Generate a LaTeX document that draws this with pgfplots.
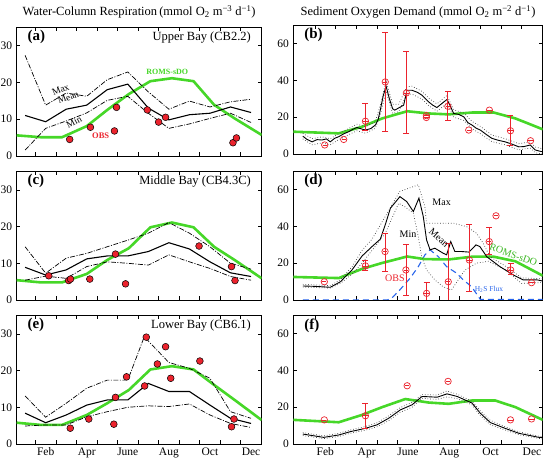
\documentclass[border=0pt]{standalone}
\usepackage{fontspec}
\setmainfont{Liberation Serif}
\usepackage{pgfplots}
\pgfplotsset{compat=1.18}
\definecolor{romsgreen}{RGB}{70,215,40}
\definecolor{obsred}{RGB}{235,35,45}
\definecolor{h2sblue}{RGB}{40,100,235}
\tikzset{
  plabel/.style={anchor=west, font=\bfseries\fontsize{15}{15}\selectfont},
  slabel/.style={anchor=east, font=\fontsize{12.5}{13}\selectfont},
}
\pgfplotsset{
  base/.style={scale only axis, anchor=south west, ymin=0,
    xmax=12.02, xtick={1,2,...,11}, xticklabels={},
    tick align=inside, major tick length=3.5pt, tick pos=both,
    axis line style={line width=0.8pt}, every tick/.style={black, line width=0.6pt},
    /pgf/number format/assume math mode=true,
    ticklabel style={font=\fontsize{11.5}{12}\selectfont},
    yticklabel style={xshift=-1pt}},
  leftpanel/.style={base, width=245pt, height=129pt, xmin=0.09, ymax=35, ytick={0,10,20,30}},
  rightpanel/.style={base, width=249.4pt, height=129pt, xmin=-0.05, ymax=70, ytick={0,20,40,60}},
  months/.style={extra x ticks={1.5,3.5,5.5,7.5,9.5,11.5},
    extra x tick labels={Feb,Apr,June,Aug,Oct,Dec},
    extra x tick style={major tick length=0pt}},
  meanline/.style={black, line width=1.1pt, no marks},
  mmline/.style={black, line width=0.7pt, no marks, dash pattern=on 5pt off 1.5pt on 1pt off 1.5pt},
  roms/.style={romsgreen, line width=2.6pt, no marks},
  obsdot/.style={only marks, mark=*, mark size=3.4pt, mark options={fill=obsred, draw=black, line width=0.5pt}},
  dotline/.style={black!75, line width=0.7pt, dotted, no marks},
  obscirc/.style={only marks, mark=o, mark size=3.2pt, mark options={draw=obsred, line width=0.7pt},
    error bars/.cd, y dir=both, y explicit,
    error bar style={obsred, line width=0.8pt},
    error mark options={obsred, line width=0.8pt, mark size=3pt, rotate=90}},
  obsbar/.style={only marks, mark=-, mark size=2.2pt, mark options={draw=obsred, line width=0.7pt}},
}
\begin{document}
\begin{tikzpicture}[x=1pt,y=1pt]
\path[use as bounding box] (0,0) rectangle (544,461);
\node[font=\fontsize{12.5}{13}\selectfont] at (139.2,449) {Water-Column Respiration\,(mmol O\textsubscript{2} m\textsuperscript{−3} d\textsuperscript{−1})};
\node[font=\fontsize{12.5}{13}\selectfont] at (418,449) {Sediment Oxygen Demand (mmol O\textsubscript{2} m\textsuperscript{−2} d\textsuperscript{−1})};

% ---------------- (a)
\begin{axis}[leftpanel, at={(16.7pt,305pt)}]
\addplot[roms] coordinates {(0.09,5.6)(1.25,5.1)(2.3,5.1)(3.5,8.1)(4.5,12.5)(5.55,16.8)(6.6,20.3)(7.65,21.1)(8.7,20.3)(9.7,13.9)(10.7,10.2)(12.02,5.7)};
\addplot[mmline] coordinates {(0.5,27.3)(1.5,13.8)(2.5,17.1)(3.5,16.2)(4.5,20.7)(5.5,22.8)(6.5,17.4)(7.5,12.7)(8.5,14.9)(9.5,13.3)(10.5,14.7)(11.5,15.4)};
\addplot[mmline] coordinates {(0.5,1.6)(1.5,7.5)(2.5,9.5)(3.5,11.7)(4.5,15.1)(5.5,16.2)(6.5,11.6)(7.5,7.5)(8.5,8.7)(9.5,10.2)(10.5,11.6)(11.5,9.1)};
\addplot[meanline] coordinates {(0.5,11.0)(1.5,9.3)(2.5,12.7)(3.5,13.8)(4.5,18.0)(5.5,19.5)(6.5,13.0)(7.5,9.8)(8.5,11.2)(9.5,11.6)(10.5,13.3)(11.5,11.8)};
\addplot[obsdot] coordinates {(2.67,4.5)(3.68,7.8)(4.85,6.8)(4.95,13.2)(6.45,12.5)(7.0,9.2)(7.34,10.5)(10.62,3.6)(10.79,4.9)};
\node[plabel] at (rel axis cs:0.03,0.925) {(a)};
\node[slabel] at (rel axis cs:0.97,0.92) {Upper Bay (CB2.2)};
\node[font=\fontsize{9.5}{10}\selectfont, rotate=22] at (axis cs:2.23,18.0) {Max};
\node[font=\fontsize{9.5}{10}\selectfont, rotate=20] at (axis cs:2.6,15.9) {Mean};
\node[font=\fontsize{9.5}{10}\selectfont, rotate=28] at (axis cs:2.88,9.3) {Min};
\node[font=\bfseries\fontsize{8}{9}\selectfont, text=romsgreen] at (axis cs:7.42,22.8) {ROMS-sDO};
\node[font=\bfseries\fontsize{8.5}{9}\selectfont, text=obsred] at (axis cs:4.18,5.4) {OBS};
\end{axis}

% ---------------- (b)
\begin{axis}[rightpanel, at={(293.3pt,307pt)}]
\addplot[roms] coordinates {(-0.05,12.1)(2.15,11.2)(3.28,14.8)(4.25,19.3)(5.46,23.2)(6.5,22.0)(7.47,21.5)(8.6,22.5)(9.65,22.5)(10.7,19.3)(12.02,13.4)};
\addplot[dotline] coordinates {(0.41,11.2)(0.86,8.3)(1.34,9.3)(1.74,8.3)(2.15,11.0)(2.63,13.8)(3.03,16.2)(3.44,14.8)(3.92,17.5)(4.16,26.5)(4.44,39.5)(4.76,27.0)(5.05,27.0)(5.45,36.5)(5.69,36.8)(6.18,34.0)(6.5,30.3)(6.9,27.2)(7.39,31.8)(7.71,24.0)(8.2,22.2)(8.6,17.7)(9.0,15.0)(9.56,10.3)(10.2,8.3)(10.86,5.6)(11.42,6.6)(11.66,3.8)(12.02,2.8)};
\addplot[dotline] coordinates {(0.41,8.2)(0.86,5.0)(1.34,6.0)(1.74,5.0)(2.15,7.8)(2.63,10.5)(3.03,12.6)(3.44,11.3)(3.92,13.9)(4.16,21.2)(4.44,34.0)(4.76,22.0)(5.05,23.0)(5.45,32.5)(5.69,32.5)(6.18,29.8)(6.5,26.3)(6.9,23.2)(7.39,27.4)(7.71,20.0)(8.2,18.2)(8.6,13.7)(9.0,11.0)(9.56,6.7)(10.2,5.0)(10.86,2.3)(11.42,3.2)(11.66,0.7)(12.02,0)};
\addplot[meanline, line width=0.9pt] coordinates {(0.41,9.7)(0.6,8.0)(0.86,6.6)(1.1,7.8)(1.34,7.6)(1.55,8.2)(1.74,6.6)(1.95,8.5)(2.15,9.4)(2.4,11.0)(2.63,12.1)(2.85,13.5)(3.03,14.4)(3.25,13.6)(3.44,13.0)(3.7,13.8)(3.92,15.7)(4.05,18.5)(4.16,23.8)(4.3,31.5)(4.44,36.8)(4.6,30.0)(4.76,24.5)(4.86,23.8)(5.05,25.0)(5.29,26.5)(5.4,32.0)(5.45,34.6)(5.69,34.6)(5.95,33.5)(6.18,31.9)(6.5,28.3)(6.7,26.5)(6.9,25.2)(7.15,27.5)(7.39,29.6)(7.55,26.0)(7.71,22.0)(7.95,21.5)(8.2,20.2)(8.4,17.0)(8.6,15.7)(8.8,14.0)(9.0,13.0)(9.3,10.5)(9.56,8.5)(9.85,7.5)(10.2,6.6)(10.5,5.5)(10.86,3.9)(11.1,4.0)(11.42,4.9)(11.66,2.2)(11.85,1.6)(12.02,1.2)};
\addplot[obscirc] coordinates {(1.47,4.9)(2.39,7.9)(3.44,17.8) += (0,9.9) -= (0,4.8) (4.4,39.1) += (0,27) -= (0,27) (5.42,33.1) += (0,22.6) -= (0,21.9) (6.39,19.8)(6.39,20.8)(7.43,25.9) += (0,8.2) -= (0,7.9) (8.44,13.0)(9.44,23.8)(10.46,12.6) += (0,8.5) -= (0,7.7) (11.43,7.2)};
\addplot[obsbar] coordinates {(1.47,4.9)(2.39,7.9)(3.44,17.8)(4.4,39.1)(5.42,33.1)(6.39,19.8)(6.39,20.8)(7.43,25.9)(8.44,13.0)(9.44,23.8)(10.46,12.6)(11.43,7.2)};
\node[plabel] at (rel axis cs:0.03,0.92) {(b)};
\end{axis}

% ---------------- (c)
\begin{axis}[leftpanel, at={(16.7pt,161pt)}, height=128.5pt]
\addplot[roms] coordinates {(0.09,5.4)(1.25,4.8)(2.3,4.8)(3.5,7.1)(4.5,10.9)(5.55,14.1)(6.6,19.8)(7.65,21.1)(8.7,19.8)(9.7,14.5)(10.7,10.9)(12.02,5.9)};
\addplot[mmline] coordinates {(0.5,14.5)(1.5,7.3)(2.5,11.4)(3.5,12.7)(4.5,14.5)(5.5,16.3)(6.5,18.2)(7.5,21.1)(8.5,18.2)(9.5,14.5)(10.5,10.0)(11.5,8.4)};
\addplot[mmline] coordinates {(0.5,5.4)(1.5,6.5)(2.5,5.9)(3.5,9.1)(4.5,10.4)(5.5,10.0)(6.5,9.5)(7.5,12.3)(8.5,10.4)(9.5,8.6)(10.5,6.4)(11.5,5.4)};
\addplot[meanline] coordinates {(0.5,8.9)(1.5,6.8)(2.5,8.2)(3.5,11.2)(4.5,12.0)(5.5,12.0)(6.5,13.2)(7.5,15.6)(8.5,13.9)(9.5,10.4)(10.5,7.4)(11.5,6.4)};
\addplot[obsdot] coordinates {(1.65,6.6)(2.62,5.3)(2.71,5.7)(3.65,5.7)(4.9,12.5)(5.39,4.4)(8.97,14.7)(10.55,9.1)(10.72,5.3)};
\node[plabel] at (rel axis cs:0.03,0.925) {(c)};
\node[slabel] at (rel axis cs:0.97,0.92) {Middle Bay (CB4.3C)};
\end{axis}

% ---------------- (d)
\begin{axis}[rightpanel, at={(293.3pt,161pt)}]
\addplot[h2sblue, line width=1.1pt, dash pattern=on 6pt off 4pt, no marks] coordinates {(0.41,0)(4.5,0)(4.7,0.9)(5.1,5.4)(5.6,11.8)(6.0,18.1)(6.32,24.5)(6.57,27.2)(6.97,23.5)(7.37,18.1)(7.86,14.5)(8.18,10.9)(8.58,7.2)(8.9,2)(9.0,0.3)(12.02,0.3)};
\addplot[roms] coordinates {(-0.05,12.5)(2.15,11.9)(3.28,16.9)(4.25,20.1)(5.46,23.6)(6.3,22.2)(7.47,22.0)(8.6,23.5)(9.65,23.5)(10.7,21.0)(12.02,13.2)};
\addplot[dotline] coordinates {(0.41,8.5)(1.74,7.8)(2.23,11)(2.79,18)(3.28,27)(3.76,33)(4.4,45.3)(5.1,58.9)(6.0,62.5)(6.32,50.7)(6.4,41.7)(7.0,41.7)(7.7,41.7)(8.34,39.8)(8.82,36.2)(9.14,30.8)(9.47,23.5)(10.2,18.5)(11.0,12)(12.02,11.5)};
\addplot[dotline] coordinates {(0.41,7.0)(1.74,6.5)(2.23,9)(2.79,14)(3.28,20)(4.4,36.2)(5.05,52.5)(5.36,50.5)(5.76,47.1)(6.0,34.4)(6.16,23.5)(6.4,16.3)(6.8,10.9)(7.2,7.2)(7.6,5.4)(7.93,10.9)(8.26,16.3)(8.82,20)(9.4,21)(10.2,16.5)(11.0,9)(12.02,9.5)};
\addplot[meanline, line width=0.9pt] coordinates {(0.41,7.6)(1.0,7.4)(1.74,6.9)(2.23,9.9)(2.79,16.3)(3.28,23.9)(3.76,29.0)(4.16,33)(4.4,40.8)(4.65,49.8)(5.11,56.1)(5.44,53.4)(5.76,48.0)(6.03,55.3)(6.24,45.3)(6.4,32.6)(6.57,27.2)(6.8,28.1)(7.2,25.4)(7.37,24.5)(7.57,31.7)(7.77,26.3)(8.1,26.3)(8.45,26.0)(8.79,29.9)(8.98,29.0)(9.31,23.5)(9.95,18.1)(10.6,13.6)(11.08,10.9)(11.3,10.9)(11.75,10.9)(12.02,10.3)};
\addplot[obscirc] coordinates {(1.45,9.9)(3.44,18.5) += (0,3.2) -= (0,2.6) (4.39,26.3) += (0,9.9) -= (0,10.9) (5.4,16.3) += (0,13.6) -= (0,13.6) (6.4,3.6) += (0,5.8) -= (0,3.6) (7.45,9.9) += (0,20.9) -= (0,12) (8.47,21.7) += (0,19.1) -= (0,17.2) (9.43,31.7) += (0,7.6) -= (0,7.2) (9.76,45.7)(10.47,16.3) += (0,3.3) -= (0,2.4) (11.48,9.4)};
\addplot[obsbar] coordinates {(1.45,9.9)(3.44,18.5)(4.39,26.3)(5.4,16.3)(6.4,3.6)(7.45,9.9)(8.47,21.7)(9.43,31.7)(9.76,45.7)(10.47,16.3)(11.48,9.4)};
\node[plabel] at (rel axis cs:0.03,0.92) {(d)};
\node[font=\fontsize{10}{10}\selectfont] at (axis cs:7.13,52.9) {Max};
\node[font=\fontsize{10}{10}\selectfont] at (axis cs:5.5,35.9) {Min};
\node[font=\fontsize{10}{10}\selectfont, rotate=-42] at (axis cs:7.0,34.0) {Mean};
\node[font=\fontsize{10}{10}\selectfont, text=romsgreen!85!black, rotate=-20] at (axis cs:10.6,24.5) {ROMS-sDO};
\node[font=\fontsize{10}{10}\selectfont, text=obsred] at (axis cs:4.87,11.8) {OBS};
\node[font=\fontsize{7.5}{8}\selectfont, text=h2sblue] at (axis cs:9.42,5.8) {H\textsubscript{2}S Flux};
\end{axis}

% ---------------- (e)
\begin{axis}[leftpanel, at={(16.7pt,17pt)}, height=128.5pt, months]
\addplot[roms] coordinates {(0.09,5.8)(1.25,5.2)(2.3,5.2)(3.5,7.9)(4.5,11.1)(5.55,14.7)(6.6,20.3)(7.65,21.2)(8.7,20.3)(9.7,16.1)(10.7,12.0)(12.02,6.5)};
\addplot[mmline] coordinates {(0.5,13.1)(1.5,7.3)(2.5,11.1)(3.5,15.2)(4.5,17.4)(5.5,17.4)(6.3,29.2)(7.5,22.2)(8.5,20.6)(9.5,17.9)(10.5,8.8)(11.5,7.0)};
\addplot[mmline] coordinates {(0.5,4.9)(1.5,5.2)(2.5,5.2)(3.5,7.4)(4.5,8.8)(5.5,10.0)(6.5,10.4)(7.5,10.2)(8.5,10.9)(9.5,7.9)(10.5,5.6)(11.5,4.5)};
\addplot[meanline] coordinates {(0.5,8.4)(1.5,5.8)(2.5,7.9)(3.5,10.6)(4.5,12.0)(5.5,12.0)(6.5,16.5)(7.5,14.3)(8.5,14.3)(9.5,10.6)(10.5,7.0)(11.5,5.6)};
\addplot[obsdot] coordinates {(2.7,4.3)(3.6,6.8)(4.82,5.4)(4.9,12.7)(5.44,18.3)(6.32,15.8)(6.4,29.1)(6.94,21.8)(7.34,26.5)(7.59,17.9)(9.01,22.6)(10.55,4.7)(10.67,6.8)};
\node[plabel] at (rel axis cs:0.03,0.925) {(e)};
\node[slabel] at (rel axis cs:0.97,0.92) {Lower Bay (CB6.1)};
\end{axis}

% ---------------- (f)
\begin{axis}[rightpanel, at={(293.3pt,17pt)}, months]
\addplot[roms] coordinates {(-0.05,13.1)(2.15,11.8)(3.28,15.8)(4.25,20)(5.37,24.4)(6.5,22.5)(7.47,21.8)(8.6,23.6)(9.72,23.6)(10.7,20)(12.02,13.1)};
\addplot[dotline] coordinates {(0.41,6.2)(1.42,4.4)(2.15,5.8)(2.71,7.6)(3.44,9.5)(4.0,11.5)(4.57,15.3)(5.13,19.8)(5.7,22.6)(6.18,26.8)(6.91,26.6)(7.39,28.8)(7.88,27.0)(8.6,23.2)(9.0,18.0)(9.49,12.8)(10.2,9.4)(10.87,6.6)(11.84,4.2)(12.02,4.0)};
\addplot[dotline] coordinates {(0.41,4.6)(1.42,2.9)(2.15,4.1)(2.71,5.8)(3.44,7.5)(4.0,9.3)(4.57,12.7)(5.13,17.2)(5.7,20.0)(6.18,24.8)(6.91,24.2)(7.39,25.6)(7.88,24.6)(8.6,21.2)(9.0,15.4)(9.49,10.4)(10.2,7.6)(10.87,5.0)(11.84,3.0)(12.02,2.8)};
\addplot[meanline, line width=0.9pt] coordinates {(0.41,5.4)(1.42,3.6)(2.15,4.9)(2.71,6.7)(3.44,8.5)(4.0,10.4)(4.57,14.0)(5.13,18.5)(5.7,21.3)(6.18,25.8)(6.91,25.4)(7.39,27.2)(7.88,25.8)(8.6,22.2)(9.0,16.7)(9.49,11.6)(10.2,8.5)(10.87,5.8)(11.84,3.6)(12.02,3.4)};
\addplot[obscirc] coordinates {(1.45,13.1)(3.44,15.3) += (0,6.5) -= (0,6.7) (5.46,31.6)(7.44,34.0)(10.46,13.1)(11.48,13.6)};
\addplot[obsbar] coordinates {(1.45,13.1)(3.44,15.3)(5.46,31.6)(7.44,34.0)(10.46,13.1)(11.48,13.6)};
\node[plabel] at (rel axis cs:0.03,0.92) {(f)};
\end{axis}
\end{tikzpicture}
\end{document}
